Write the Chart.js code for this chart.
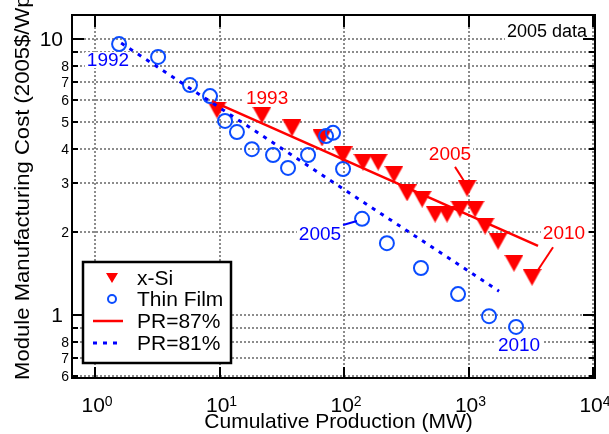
<!DOCTYPE html>
<html>
<head>
<meta charset="utf-8">
<script src="https://cdn.jsdelivr.net/npm/chart.js@4/dist/chart.umd.min.js"></script>
<style>
  body { margin: 0; background: #fff; }
  canvas { display: block; }
</style>
</head>
<body>
<canvas id="grafico" width="609" height="434"></canvas>
<script>
// dados (2005 data)
const xSiProducao = [9.55, 21.9, 38.2, 66.6, 98.2, 142, 188, 252, 321, 424, 539, 672, 854, 973, 1128, 1359, 1727, 2318, 3236];
const xSiCusto = [5.53, 5.30, 4.76, 4.38, 3.80, 3.58, 3.58, 3.24, 2.77, 2.63, 2.32, 2.32, 2.42, 2.88, 2.42, 2.10, 1.85, 1.54, 1.37];

const filmeProducao = [1.56, 3.21, 5.79, 8.39, 11.07, 13.8, 18.2, 26.9, 35.5, 51.4, 71.7, 81.6, 98.2, 139.6, 221, 415, 824, 1462, 2410];
const filmeCusto = [9.59, 8.61, 6.81, 6.21, 5.05, 4.60, 3.99, 3.80, 3.41, 3.80, 4.45, 4.57, 3.38, 2.23, 1.82, 1.48, 1.19, 0.99, 0.905];

// retas de aprendizado (extremos)
const pr87Producao = [8.7, 3616];
const pr87Custo = [5.96, 1.78];
const pr81Producao = [1.62, 1758];
const pr81Custo = [9.67, 1.22];

const xTicks = [1, 10, 100, 1000, 10000];
const xExpoentes = ['0', '1', '2', '3', '4'];
const yTicks = [0.6, 0.7, 0.8, 0.9, 1, 2, 3, 4, 5, 6, 7, 8, 9, 10];
const yRotulos = ['6', '7', '8', '', '1', '2', '3', '4', '5', '6', '7', '8', '', '10'];

const legendas = ['x-Si', 'Thin Film', 'PR=87%', 'PR=81%'];

// anotacoes: texto, cor, posicao (dados), seta opcional
const anotacoes = [
    { texto: '1992', cor: '#0000ff', x: 1.27, y: 8.39 },
    { texto: '1993', cor: '#ff0000', x: 24.1, y: 6.14 },
    { texto: '2005', cor: '#ff0000', x: 710, y: 3.85, seta: [[779, 3.44], [920, 3.06]] },
    { texto: '2005', cor: '#0000ff', x: 64.1, y: 1.97, seta: [[98.2, 2.12], [127, 2.19]] },
    { texto: '2010', cor: '#ff0000', x: 5848, y: 1.99, seta: [[4775, 1.76], [3484, 1.42]] },
    { texto: '2010', cor: '#0000ff', x: 2545, y: 0.782 }
];

const FONTE = '"Liberation Sans", Arial, Helvetica, sans-serif';
const VERMELHO = '#ff0000';
const AZUL = '#0000ff';
const AZUL_CIRCULO = '#0a4cff';

function criarTriangulo(w, h) {
    const c = document.createElement('canvas');
    c.width = w;
    c.height = h;
    const g = c.getContext('2d');
    g.fillStyle = VERMELHO;
    g.beginPath();
    g.moveTo(0, 0);
    g.lineTo(w, 0);
    g.lineTo(w / 2, h);
    g.closePath();
    g.fill();
    return c;
}

function pontos(xs, ys) {
    return xs.map((x, i) => ({ x: x, y: ys[i] }));
}

const desenhoEixos = {
    id: 'desenhoEixos',
    afterDatasetsDraw(chart) {
        const ctx = chart.ctx;
        const sx = chart.scales.x;
        const sy = chart.scales.y;
        ctx.save();

        // anotacoes com fundo branco
        ctx.font = '19px ' + FONTE;
        ctx.textAlign = 'center';
        ctx.textBaseline = 'middle';
        anotacoes.forEach(a => {
            const px = sx.getPixelForValue(a.x);
            const py = sy.getPixelForValue(a.y);
            const w = ctx.measureText(a.texto).width;
            ctx.fillStyle = '#fff';
            ctx.fillRect(px - w / 2 - 2, py - 8, w + 4, 16);
            ctx.fillStyle = a.cor;
            ctx.fillText(a.texto, px, py + 1);
            if (a.seta) {
                ctx.strokeStyle = a.cor;
                ctx.lineWidth = 2;
                ctx.beginPath();
                ctx.moveTo(sx.getPixelForValue(a.seta[0][0]), sy.getPixelForValue(a.seta[0][1]));
                ctx.lineTo(sx.getPixelForValue(a.seta[1][0]), sy.getPixelForValue(a.seta[1][1]));
                ctx.stroke();
            }
        });

        const area = chart.chartArea;

        // "2005 data"
        ctx.font = '18px ' + FONTE;
        ctx.textAlign = 'right';
        const t = '2005 data';
        const tw = ctx.measureText(t).width;
        ctx.fillStyle = '#fff';
        ctx.fillRect(area.right - 10 - tw, area.top + 8, tw + 4, 17);
        ctx.fillStyle = '#000';
        ctx.fillText(t, area.right - 8, area.top + 17);

        // legenda
        const lx = area.left + 11;
        const ly = area.bottom - 116;
        ctx.fillStyle = '#fff';
        ctx.fillRect(lx, ly, 148, 101);
        ctx.strokeStyle = '#000';
        ctx.lineWidth = 2.5;
        ctx.strokeRect(lx, ly, 148, 101);

        const linhas = [16, 37, 59, 81];
        const mx = lx + 29;
        // triangulo
        ctx.fillStyle = VERMELHO;
        ctx.beginPath();
        ctx.moveTo(mx - 6, ly + linhas[0] - 5);
        ctx.lineTo(mx + 6, ly + linhas[0] - 5);
        ctx.lineTo(mx, ly + linhas[0] + 5);
        ctx.closePath();
        ctx.fill();
        // circulo
        ctx.strokeStyle = AZUL_CIRCULO;
        ctx.lineWidth = 2;
        ctx.beginPath();
        ctx.arc(mx, ly + linhas[1], 4, 0, Math.PI * 2);
        ctx.stroke();
        // linhas
        ctx.strokeStyle = VERMELHO;
        ctx.lineWidth = 2.5;
        ctx.beginPath();
        ctx.moveTo(lx + 10, ly + linhas[2]);
        ctx.lineTo(lx + 40, ly + linhas[2]);
        ctx.stroke();
        ctx.strokeStyle = AZUL;
        ctx.lineWidth = 3;
        ctx.setLineDash([4, 6]);
        ctx.beginPath();
        ctx.moveTo(lx + 10, ly + linhas[3]);
        ctx.lineTo(lx + 40, ly + linhas[3]);
        ctx.stroke();
        ctx.setLineDash([]);

        ctx.font = '21px ' + FONTE;
        ctx.textAlign = 'left';
        ctx.fillStyle = '#000';
        legendas.forEach((txt, i) => {
            ctx.fillText(txt, lx + 54, ly + linhas[i] + 1);
        });

        ctx.restore();
    },
    afterDraw(chart) {
        const ctx = chart.ctx;
        const area = chart.chartArea;
        const sx = chart.scales.x;
        const sy = chart.scales.y;
        ctx.save();

        // moldura
        ctx.strokeStyle = '#000';
        ctx.lineWidth = 2;
        ctx.strokeRect(area.left, area.top, area.right - area.left, area.bottom - area.top);

        // marcas do eixo x
        xTicks.forEach(v => {
            const px = Math.round(sx.getPixelForValue(v));
            ctx.beginPath();
            ctx.moveTo(px, area.bottom);
            ctx.lineTo(px, area.bottom - 11);
            ctx.moveTo(px, area.top);
            ctx.lineTo(px, area.top + 12);
            ctx.stroke();
        });

        // marcas do eixo y
        yTicks.forEach(v => {
            const py = Math.round(sy.getPixelForValue(v));
            const tam = (v === 1 || v === 10) ? 12 : 6;
            ctx.beginPath();
            ctx.moveTo(area.left, py);
            ctx.lineTo(area.left + tam, py);
            ctx.moveTo(area.right, py);
            ctx.lineTo(area.right - tam, py);
            ctx.stroke();
        });

        // rotulos do eixo y
        ctx.fillStyle = '#000';
        ctx.textAlign = 'right';
        ctx.textBaseline = 'middle';
        yTicks.forEach((v, i) => {
            if (!yRotulos[i]) return;
            const py = sy.getPixelForValue(v);
            if (v === 1 || v === 10) {
                ctx.font = '21px ' + FONTE;
                ctx.fillText(yRotulos[i], area.left - 9, py + 1);
            } else {
                ctx.font = '14px ' + FONTE;
                ctx.fillText(yRotulos[i], area.left - 3, py + 1);
            }
        });

        // rotulos do eixo x (10 com expoente)
        ctx.textAlign = 'left';
        ctx.textBaseline = 'alphabetic';
        xTicks.forEach((v, i) => {
            const px = sx.getPixelForValue(v);
            ctx.font = '21px ' + FONTE;
            const wBase = ctx.measureText('10').width;
            ctx.font = '14px ' + FONTE;
            const wExp = ctx.measureText(xExpoentes[i]).width;
            const x0 = px + 2 - (wBase + wExp) / 2;
            ctx.font = '21px ' + FONTE;
            ctx.fillText('10', x0, area.bottom + 34);
            ctx.font = '14px ' + FONTE;
            ctx.fillText(xExpoentes[i], x0 + wBase, area.bottom + 28);
        });

        // titulo do eixo x
        ctx.font = '21px ' + FONTE;
        ctx.textAlign = 'center';
        ctx.fillText('Cumulative Production (MW)', (area.left + area.right) / 2 + 5, area.bottom + 50);

        // titulo do eixo y (cortado no topo, como no original)
        const titulo = 'Module Manufacturing Cost (2005$/Wp)';
        ctx.font = '21px ' + FONTE;
        ctx.textAlign = 'left';
        const wt = ctx.measureText(titulo).width;
        ctx.translate(29, area.bottom + 2);
        ctx.rotate(-Math.PI / 2);
        ctx.scale(392 / wt, 1);
        ctx.fillText(titulo, 0, 0);

        ctx.restore();
    }
};

const ctx = document.getElementById('grafico').getContext('2d');
const triangulo = criarTriangulo(19, 17);

window.grafico = new Chart(ctx, {
    type: 'scatter',
    data: {
        datasets: [
            {
                label: 'x-Si',
                data: pontos(xSiProducao, xSiCusto),
                pointStyle: triangulo,
                backgroundColor: VERMELHO,
                borderColor: VERMELHO,
                order: 4
            },
            {
                label: 'Thin Film',
                data: pontos(filmeProducao, filmeCusto),
                pointStyle: 'circle',
                pointRadius: 7,
                borderWidth: 2,
                borderColor: AZUL_CIRCULO,
                backgroundColor: 'rgba(0,0,0,0)',
                order: 3
            },
            {
                label: 'PR=87%',
                data: pontos(pr87Producao, pr87Custo),
                showLine: true,
                pointRadius: 0,
                borderColor: VERMELHO,
                borderWidth: 2.5,
                order: 2
            },
            {
                label: 'PR=81%',
                data: pontos(pr81Producao, pr81Custo),
                showLine: true,
                pointRadius: 0,
                borderColor: AZUL,
                borderWidth: 3,
                borderDash: [4, 6],
                order: 1
            }
        ]
    },
    options: {
        responsive: false,
        animation: false,
        events: [],
        layout: {
            padding: { left: 72, right: 14, top: 15, bottom: 56 }
        },
        plugins: {
            legend: { display: false },
            tooltip: { enabled: false }
        },
        scales: {
            x: {
                type: 'logarithmic',
                min: 0.653,
                max: 10375,
                afterBuildTicks: escala => {
                    escala.ticks = xTicks.map(v => ({ value: v }));
                },
                ticks: { display: false },
                grid: { color: '#8c8c8c', lineWidth: 2, drawTicks: false },
                border: { display: false, dash: [2, 2] }
            },
            y: {
                type: 'logarithmic',
                min: 0.591,
                max: 12.22,
                afterBuildTicks: escala => {
                    escala.ticks = yTicks.map(v => ({ value: v }));
                },
                ticks: { display: false },
                grid: { color: '#8c8c8c', lineWidth: 2, drawTicks: false },
                border: { display: false, dash: [2, 2] }
            }
        }
    },
    plugins: [desenhoEixos]
});
</script>
</body>
</html>
